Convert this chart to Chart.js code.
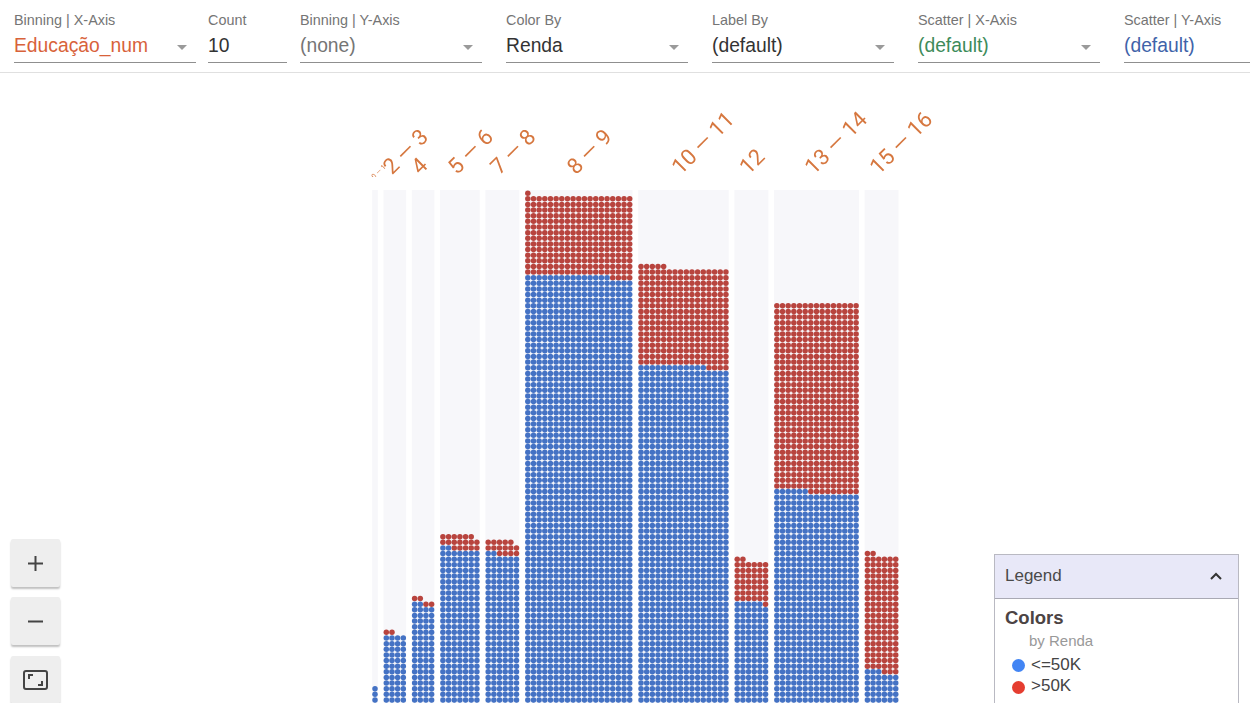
<!DOCTYPE html>
<html>
<head>
<meta charset="utf-8">
<title>Facets</title>
<script src="https://cdn.jsdelivr.net/npm/chart.js@4"></script>
<style>
    html, body { margin: 0; padding: 0; width: 1250px; height: 703px; overflow: hidden; background: #fff; font-family: "Liberation Sans", Arial, sans-serif; }
    .field { position: absolute; top: 0; height: 64px; border-bottom: 0; }
    .field .cap { position: absolute; left: 0; top: 12px; font-size: 14.4px; color: #757575; white-space: nowrap; }
    .field .val { position: absolute; left: 0; top: 35px; font-size: 19.3px; white-space: nowrap; }
    .field .line { position: absolute; left: 0; right: 0; top: 62px; height: 1px; background: #8f8f8f; }
    .field .arrow { position: absolute; right: 9px; top: 45px; width: 0; height: 0; border-left: 5px solid transparent; border-right: 5px solid transparent; border-top: 5px solid #9a9a9a; }
    #divider { position: absolute; left: 0; top: 72px; width: 1250px; height: 1px; background: #e0e0e0; }
    #wrap { position: absolute; left: 0; top: 75px; width: 1250px; height: 628px; }
    .btn { position: absolute; left: 11px; width: 49px; height: 48px; background: #eeeeee; border-radius: 2px; box-shadow: 0 2px 2px rgba(0,0,0,0.25); }
    .btn svg { position: absolute; left: 12px; top: 12px; }
    #legend { position: absolute; left: 994px; top: 554px; width: 243px; height: 160px; border: 1px solid #b9b9c2; background: #fff; color: #444; }
    #legendHead { height: 43px; background: #e8e8f8; border-bottom: 1px solid #a9a9b4; position: relative; font-size: 17px; line-height: 42px; padding-left: 10px; color: #4a4a4a; }
    #legendHead svg { position: absolute; right: 16px; top: 17px; }
    #legend .colors { position: absolute; left: 10px; top: 52px; font-size: 18.5px; font-weight: bold; color: #4c4444; }
    #legend .by { position: absolute; left: 34px; top: 77px; font-size: 15px; color: #999; }
    #legend .item { position: absolute; left: 36px; font-size: 17px; color: #444; }
    #legend .dot { position: absolute; left: 17px; width: 13px; height: 13px; border-radius: 50%; }
</style>
</head>
<body>

<div class="field" style="left:14px;width:182px"><div class="cap">Binning | X-Axis</div><div class="val" style="color:#d8623a">Educação_num</div><div class="arrow"></div><div class="line"></div></div>
<div class="field" style="left:208px;width:79px"><div class="cap">Count</div><div class="val" style="color:#333">10</div><div class="line"></div></div>
<div class="field" style="left:300px;width:182px"><div class="cap">Binning | Y-Axis</div><div class="val" style="color:#757575">(none)</div><div class="arrow"></div><div class="line"></div></div>
<div class="field" style="left:506px;width:182px"><div class="cap">Color By</div><div class="val" style="color:#333">Renda</div><div class="arrow"></div><div class="line"></div></div>
<div class="field" style="left:712px;width:182px"><div class="cap">Label By</div><div class="val" style="color:#333">(default)</div><div class="arrow"></div><div class="line"></div></div>
<div class="field" style="left:918px;width:182px"><div class="cap">Scatter | X-Axis</div><div class="val" style="color:#3d8b5a">(default)</div><div class="arrow"></div><div class="line"></div></div>
<div class="field" style="left:1124px;width:126px"><div class="cap">Scatter | Y-Axis</div><div class="val" style="color:#3f63a9">(default)</div><div class="line"></div></div>
<div id="divider"></div>

<div id="wrap"><canvas id="grafico" width="1250" height="628"></canvas></div>

<div class="btn" style="top:539px"><svg width="25" height="25"><path d="M12.5 5v15M5 12.5h15" stroke="#444" stroke-width="2"/></svg></div>
<div class="btn" style="top:597px"><svg width="25" height="25"><path d="M5 12.5h15" stroke="#444" stroke-width="2"/></svg></div>
<div class="btn" style="top:656px"><svg width="25" height="25"><rect x="1" y="3" width="23" height="18" rx="2" fill="none" stroke="#444" stroke-width="2"/><path d="M6 11V7h4M19 13v4h-4" fill="none" stroke="#444" stroke-width="2"/></svg></div>

<div id="legend">
    <div id="legendHead">Legend<svg width="12" height="8"><path d="M1 7l5-5 5 5" fill="none" stroke="#333" stroke-width="2"/></svg></div>
    <div class="colors">Colors</div>
    <div class="by">by Renda</div>
    <div class="dot" style="top:104px;background:#4285f4"></div><div class="item" style="top:100px">&lt;=50K</div>
    <div class="dot" style="top:126px;background:#e53d30"></div><div class="item" style="top:121px">&gt;50K</div>
</div>

<script>
    // one entry per bin: label, dots per row, how many dots of each class
    const binLabels = ['0 — 1', '2 — 3', '4', '5 — 6', '7 — 8', '8 — 9', '10 — 11', '12', '13 — 14', '15 — 16'];
    const binCols = [1, 4, 4, 7, 6, 19, 16, 6, 15, 6];
    const bajoValues = [5, 56, 78, 205, 170, 1478, 988, 119, 591, 45];
    const altoValues = [0, 2, 4, 18, 15, 271, 281, 45, 504, 125];

    const colorBajo = '#4472c4';
    const colorAlto = '#b8443e';
    const colorBin = '#f7f7fa';
    const colorLabel = '#d6773f';

    // size of a dot cell in pixels
    const pasoX = 5.66;
    const topRows = 92.57;

    const binStart = [];
    let acumulado = 0;
    binCols.forEach(cols => {
        binStart.push(acumulado);
        acumulado += cols + 1;
    });
    const binCenters = binCols.map((cols, i) => binStart[i] + (cols - 1) / 2);

    function dotsFor(values, offsets) {
        const puntos = [];
        values.forEach((n, i) => {
            const base = offsets ? offsets[i] : 0;
            for (let k = base; k < base + n; k++) {
                puntos.push({ x: binStart[i] + k % binCols[i], y: Math.floor(k / binCols[i]) });
            }
        });
        return puntos;
    }

    // grey column behind every bin
    const fondoBins = {
        id: 'fondoBins',
        beforeDatasetsDraw(chart) {
            const { ctx, chartArea, scales } = chart;
            ctx.save();
            ctx.fillStyle = colorBin;
            binCols.forEach((cols, i) => {
                const x0 = scales.x.getPixelForValue(binStart[i] - 0.5);
                const x1 = scales.x.getPixelForValue(binStart[i] + cols - 0.5);
                const y0 = scales.y.getPixelForValue(topRows);
                ctx.fillRect(x0, y0, x1 - x0, chartArea.bottom - y0);
            });
            ctx.restore();
        }
    };

    new Chart(document.getElementById('grafico').getContext('2d'), {
        type: 'scatter',
        data: {
            datasets: [
                { label: '<=50K', data: dotsFor(bajoValues), backgroundColor: colorBajo, borderWidth: 0, pointRadius: 2.75 },
                { label: '>50K', data: dotsFor(altoValues, bajoValues), backgroundColor: colorAlto, borderWidth: 0, pointRadius: 2.75 }
            ]
        },
        plugins: [fondoBins],
        options: {
            responsive: false,
            animation: false,
            events: [],
            layout: { padding: 0, autoPadding: false },
            plugins: { legend: { display: false }, tooltip: { enabled: false } },
            scales: {
                x: {
                    type: 'linear',
                    position: 'top',
                    min: -375 / pasoX,
                    max: 875 / pasoX,
                    grid: { display: false, drawTicks: false },
                    border: { display: false },
                    afterBuildTicks: function (scale) {
                        // the tiny first label sits a bit further left than the others
                        scale.ticks = binCenters.map((v, i) => ({ value: i === 0 ? v - 1.4 : v }));
                    },
                    afterFit: function (scale) {
                        scale.height = 102;
                    },
                    ticks: {
                        autoSkip: false,
                        minRotation: 45,
                        maxRotation: 45,
                        padding: -4,
                        labelOffset: 12,
                        color: colorLabel,
                        font: function (ctx) {
                            return { family: 'Roboto', weight: 400, size: ctx.index === 0 ? 7 : 22 };
                        },
                        callback: function (value, index) {
                            return binLabels[index];
                        }
                    }
                },
                y: {
                    display: false,
                    min: 1.456,
                    max: 94.88
                }
            }
        }
    });
</script>
</body>
</html>
